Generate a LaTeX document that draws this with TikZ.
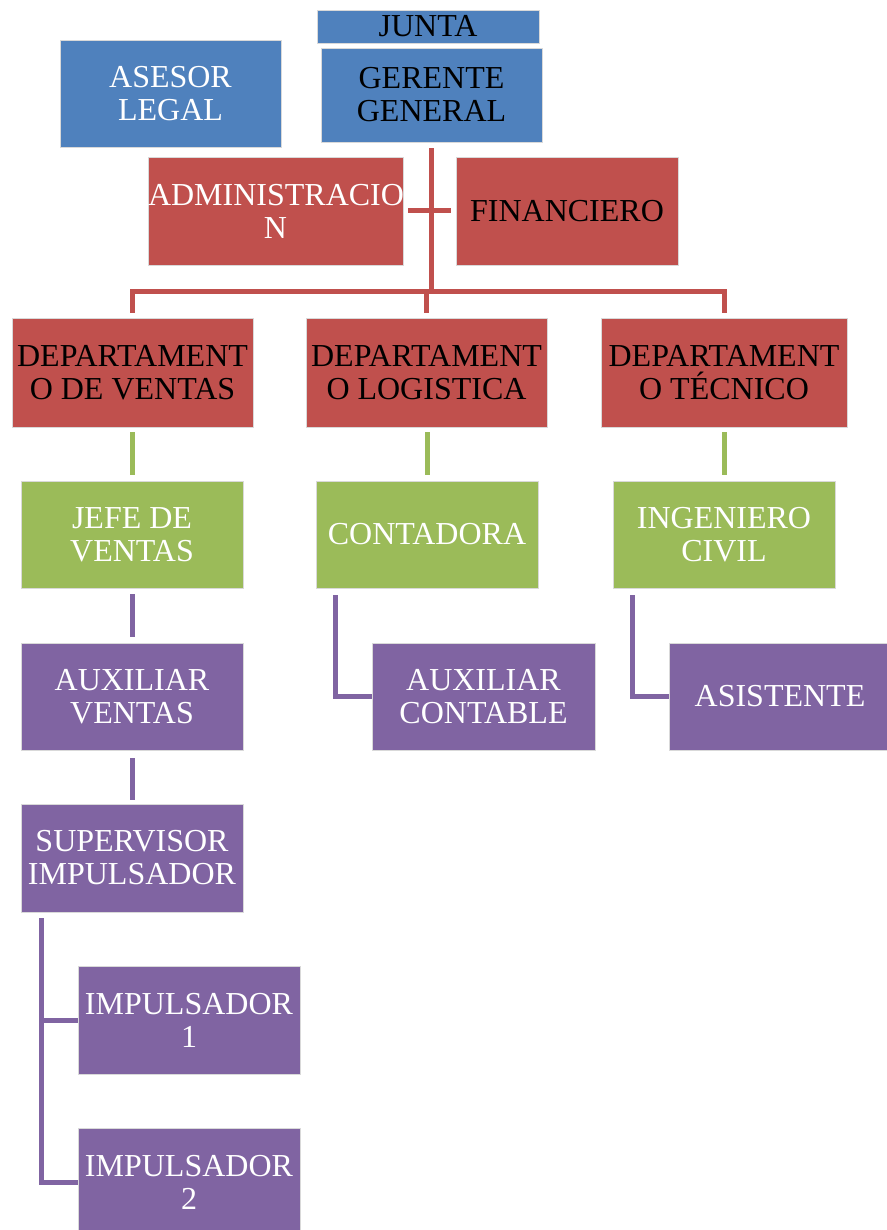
\documentclass[tikz,border=0pt]{standalone}
\usepackage{fontspec}
\setmainfont{Liberation Serif}
\usepackage{tikz}

\definecolor{OffBlue}{HTML}{4F81BD}
\definecolor{OffRed}{HTML}{C0504D}
\definecolor{OffGreen}{HTML}{9BBB59}
\definecolor{OffPurple}{HTML}{8064A2}

\begin{document}
\begin{tikzpicture}[
    x=1pt,y=-1pt,
    Box/.style={rectangle,draw=white!85!black,line width=0.8pt,align=center,inner sep=0pt,
      minimum width=222pt,minimum height=108pt,font=\fontsize{32}{33}\selectfont},
    Blue/.style={Box,fill=OffBlue},
    Red/.style={Box,fill=OffRed},
    Green/.style={Box,fill=OffGreen,text=white},
    Purple/.style={Box,fill=OffPurple,text=white},
    Line/.style={line width=5pt},
    ]

    \useasboundingbox (0,0) rectangle (886,1230);

    % top
    \node[Blue,minimum height=33pt] (junta) at (428,26.5) {JUNTA};
    \node[Blue,minimum width=221pt,minimum height=94pt] (gerente) at (431.5,95) {GERENTE\\GENERAL};
    \node[Blue,minimum width=221pt,minimum height=107pt,text=white] (asesor) at (170.5,93.5) {ASESOR\\LEGAL};
    \node[Red,text width=255pt,text=white] (admin) at (275.5,211) {ADMINISTRACIO\\N};
    \node[Red] (finan) at (567,211) {FINANCIERO};

    % departamentos
    \node[Red,minimum width=241pt,minimum height=109pt] (ventas) at (132.5,372.5) {DEPARTAMENT\\O DE VENTAS};
    \node[Red,minimum width=241pt,minimum height=109pt] (logistica) at (426.5,372.5) {DEPARTAMENT\\O LOGISTICA};
    \node[Red,minimum width=246pt,minimum height=109pt] (tecnico) at (724,372.5) {DEPARTAMENT\\O TÉCNICO};

    \node[Green,minimum height=107pt] (jefe) at (132,534.5) {JEFE DE\\VENTAS};
    \node[Green,minimum height=107pt] (contadora) at (427,534.5) {CONTADORA};
    \node[Green,minimum height=107pt] (ingeniero) at (724,534.5) {INGENIERO\\CIVIL};

    \node[Purple,minimum height=107pt] (auxventas) at (132,696.5) {AUXILIAR\\VENTAS};
    \node[Purple,minimum width=223pt,minimum height=107pt] (auxcont) at (483.5,696.5) {AUXILIAR\\CONTABLE};
    \node[Purple,minimum height=107pt] (asistente) at (780,696.5) {ASISTENTE};

    \node[Purple] (supervisor) at (132,858) {SUPERVISOR\\IMPULSADOR};
    \node[Purple] (imp1) at (189,1020) {IMPULSADOR\\1};
    \node[Purple] (imp2) at (189,1182) {IMPULSADOR\\2};

    \coordinate (bus) at (0,292);
    \coordinate (spine) at ([xshift=21pt,yshift=-6pt]supervisor.south west);

    % red tree
    \draw[Line,OffRed] ([yshift=-6pt]gerente.south) -- (gerente.south |- bus);
    \draw[Line,OffRed] ([xshift=5pt]admin.east) -- ([xshift=-5pt]finan.west);
    \draw[Line,OffRed] ([yshift=5pt]ventas.north) -- (ventas.north |- bus) -- (tecnico.north |- bus) -- ([yshift=5pt]tecnico.north);
    \draw[Line,OffRed] ([yshift=5pt]logistica.north) -- (logistica.north |- bus);

    % green links
    \draw[Line,OffGreen] ([yshift=-5pt]ventas.south -| jefe.north) -- ([yshift=6pt]jefe.north);
    \draw[Line,OffGreen] ([yshift=-5pt]logistica.south -| contadora.north) -- ([yshift=6pt]contadora.north);
    \draw[Line,OffGreen] ([yshift=-5pt]tecnico.south) -- ([yshift=6pt]ingeniero.north);

    % purple links
    \draw[Line,OffPurple] ([yshift=-6pt]jefe.south) -- ([yshift=6pt]auxventas.north);
    \draw[Line,OffPurple] ([yshift=-8pt]auxventas.south) -- ([yshift=4pt]supervisor.north);
    \draw[Line,OffPurple] ([xshift=20pt,yshift=-7pt]contadora.south west) |- (auxcont.west);
    \draw[Line,OffPurple] ([xshift=20pt,yshift=-7pt]ingeniero.south west) |- (asistente.west);
    \draw[Line,OffPurple] (spine) |- (imp2.west);
    \draw[Line,OffPurple] (spine |- imp1.west) -- (imp1.west);
  \end{tikzpicture}
\end{document}
